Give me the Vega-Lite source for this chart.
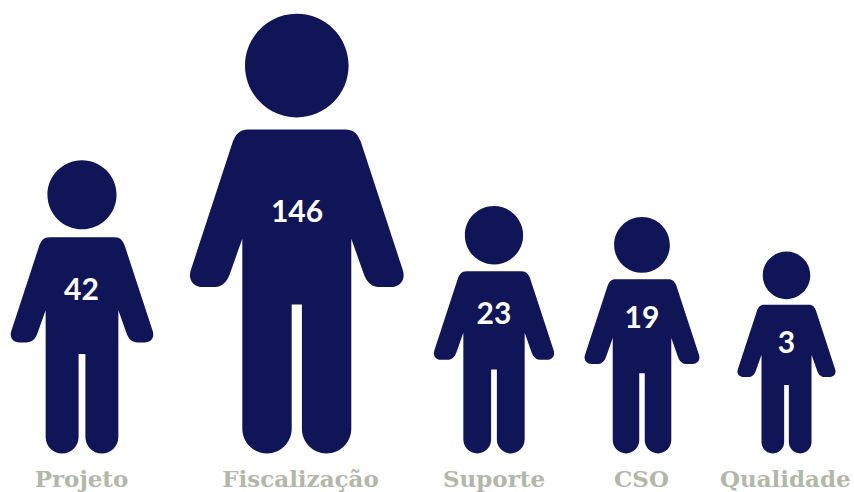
{
  "$schema": "https://vega.github.io/schema/vega-lite/v6.json",
  "width": 854,
  "height": 492,
  "padding": 0,
  "autosize": {"type": "fit", "contains": "padding"},
  "background": "white",
  "config": {"view": {"stroke": null}},
  "data": {"values": [
    {"area": "Projeto", "ordem": 1, "total": 42},
    {"area": "Fiscalização", "ordem": 2, "total": 146},
    {"area": "Suporte", "ordem": 3, "total": 23},
    {"area": "CSO", "ordem": 4, "total": 19},
    {"area": "Qualidade", "ordem": 5, "total": 3}
  ]},
  "layer": [
    {
      "mark": {
        "type": "point",
        "filled": true,
        "opacity": 1,
        "strokeWidth": 0,
        "color": "#101557",
        "shape": "M-0.2355,-1.7627 C-0.2355,-1.8928 -0.1301,-1.9982 0,-1.9982 C0.1301,-1.9982 0.2355,-1.8928 0.2355,-1.7627 C0.2355,-1.6326 0.1301,-1.5272 0,-1.5272 C-0.1301,-1.5272 -0.2355,-1.6326 -0.2355,-1.7627 Z M-0.2218,-1.4727 L0.2218,-1.4727 C0.2600,-1.4727 0.2790,-1.4500 0.2914,-1.4150 L0.4823,-0.8318 C0.4955,-0.7900 0.4700,-0.7559 0.4264,-0.7559 L0.3809,-0.7559 C0.3450,-0.7559 0.3180,-0.7750 0.3036,-0.8182 L0.2477,-0.9759 L0.2477,-0.1123 C0.2477,-0.0503 0.1974,0 0.1354,0 C0.0734,0 0.0232,-0.0503 0.0232,-0.1123 L0.0232,-0.6773 L-0.0232,-0.6773 L-0.0232,-0.1123 C-0.0232,-0.0503 -0.0734,0 -0.1354,0 C-0.1974,0 -0.2477,-0.0503 -0.2477,-0.1123 L-0.2477,-0.9759 L-0.3036,-0.8182 C-0.3180,-0.7750 -0.3450,-0.7559 -0.3809,-0.7559 L-0.4264,-0.7559 C-0.4700,-0.7559 -0.4955,-0.7900 -0.4823,-0.8318 L-0.2914,-1.4150 C-0.2790,-1.4500 -0.2600,-1.4727 -0.2218,-1.4727 Z"
      },
      "encoding": {
        "x": {"field": "ordem", "type": "quantitative", "axis": null, "scale": {"domain": [1, 2, 3, 4, 5], "range": [82, 296.8, 494, 642, 786.5]}},
        "y": {"datum": 0, "type": "quantitative", "axis": null, "scale": {"domain": [-38.6, 453.4], "range": [492, 0]}},
        "size": {"field": "total", "type": "quantitative", "legend": null, "scale": {"domain": [3, 19, 23, 42, 146], "range": [40804, 55932, 61256, 86142, 193600]}}
      }
    },
    {
      "mark": {"type": "text", "font": "Lato", "fontWeight": 700, "fontSize": 30, "color": "white", "baseline": "middle", "align": "center"},
      "encoding": {
        "x": {"field": "ordem", "type": "quantitative", "axis": null, "scale": {"domain": [1, 2, 3, 4, 5], "range": [81.5, 297, 494, 642, 786.5]}},
        "y": {"field": "total", "type": "quantitative", "axis": null, "scale": {"domain": [3, 19, 23, 42, 146], "range": [344, 319, 315, 291, 213]}},
        "text": {"field": "total", "type": "quantitative"}
      }
    },
    {
      "mark": {"type": "text", "font": "DejaVu Serif", "fontWeight": 700, "fontSize": 23, "color": "#b3b7ab", "baseline": "alphabetic", "align": "center"},
      "encoding": {
        "x": {"field": "ordem", "type": "quantitative", "axis": null, "scale": {"domain": [1, 2, 3, 4, 5], "range": [81.5, 300.5, 494, 641.5, 785.3]}},
        "y": {"datum": 5, "type": "quantitative", "axis": null, "scale": {"domain": [0, 492], "range": [492, 0]}},
        "text": {"field": "area", "type": "nominal"}
      }
    }
  ],
  "resolve": {"scale": {"x": "independent", "y": "independent"}}
}
